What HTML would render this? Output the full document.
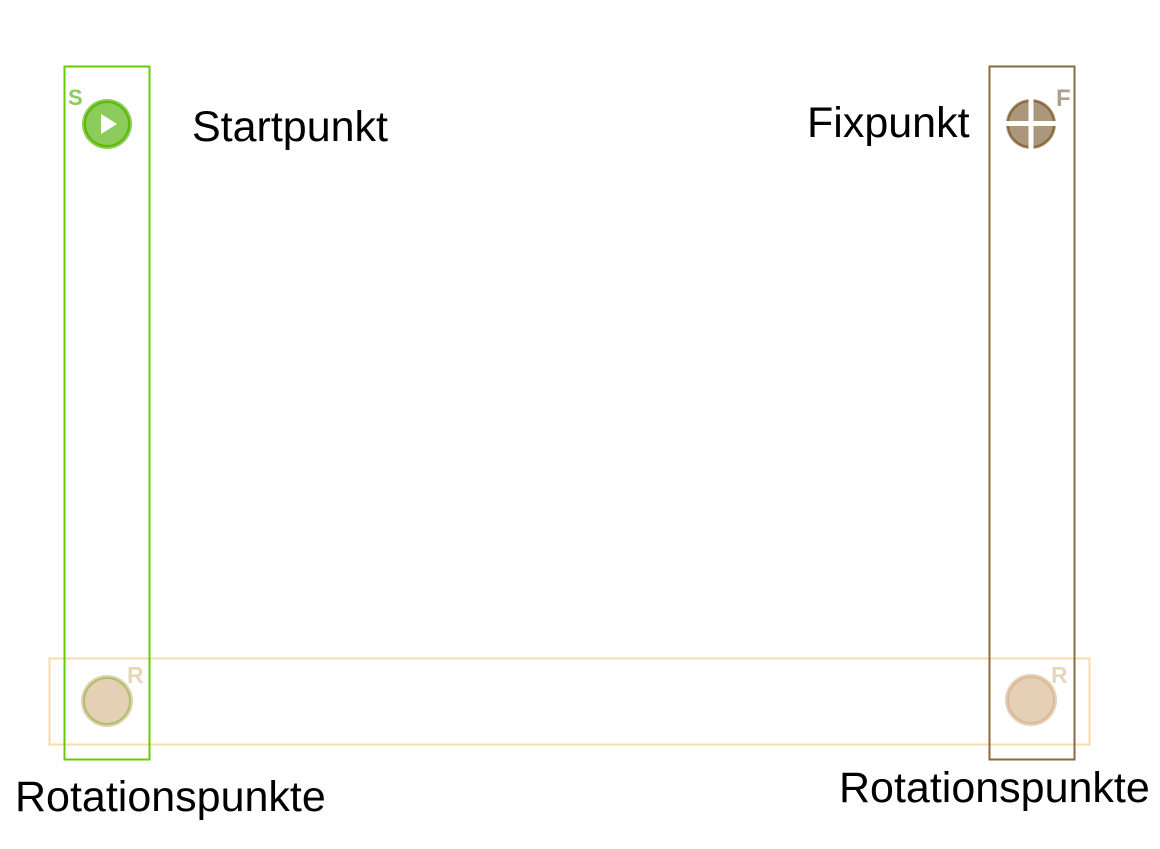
<!DOCTYPE html>
<html><head><style>html,body{margin:0;padding:0;background:#fff}svg{display:block}</style></head>
<body>
<svg width="1160" height="849" viewBox="0 0 1160 849" xmlns="http://www.w3.org/2000/svg" font-family="Liberation Sans, sans-serif">
<rect x="49.5" y="658.5" width="1040" height="86" fill="none" stroke="#fdd9a8" stroke-width="2"/>
<rect x="64.5" y="66.5" width="85" height="693" fill="none" stroke="#66cc00" stroke-width="2"/>
<rect x="989.5" y="66.5" width="85" height="693" fill="none" stroke="#8b6a3e" stroke-width="2"/>
<!-- start -->
<text x="68" y="105" font-size="22" font-weight="bold" fill="#8ccc5c">S</text>
<circle cx="107" cy="124" r="25" fill="#8ccc5c"/>
<circle cx="107" cy="124" r="22" fill="none" stroke="#5cb800" stroke-width="2"/>
<polygon points="101,114 101,134 117,124" fill="#fff"/>
<!-- fix -->
<text x="1056" y="106" font-size="24" font-weight="bold" fill="#b0a089">F</text>
<circle cx="1031" cy="124" r="25" fill="#aa977c"/>
<circle cx="1031" cy="124" r="23" fill="none" stroke="#8b6a3e" stroke-width="2"/>
<rect x="1006" y="121" width="50" height="5" fill="#fff"/>
<rect x="1028.5" y="99" width="5" height="50" fill="#fff"/>
<!-- R -->
<text x="127" y="683" font-size="23" font-weight="bold" fill="#e8d5bd">R</text>
<circle cx="107" cy="701" r="26" fill="#e5cfb5"/>
<circle cx="107" cy="701" r="23" fill="none" stroke="#a6c46a" stroke-width="2"/>
<text x="1051" y="683" font-size="23" font-weight="bold" fill="#e8d5bd">R</text>
<circle cx="1031" cy="700" r="26" fill="#e5cfb5"/>
<circle cx="1031" cy="700" r="23" fill="none" stroke="#d8bc9a" stroke-width="2"/>
<text x="192" y="141" font-size="43" fill="#000">Startpunkt</text>
<text x="807" y="137" font-size="43" fill="#000">Fixpunkt</text>
<text x="15" y="811" font-size="43" fill="#000">Rotationspunkte</text>
<text x="839" y="802" font-size="43" fill="#000">Rotationspunkte</text>
</svg>
</body></html>
